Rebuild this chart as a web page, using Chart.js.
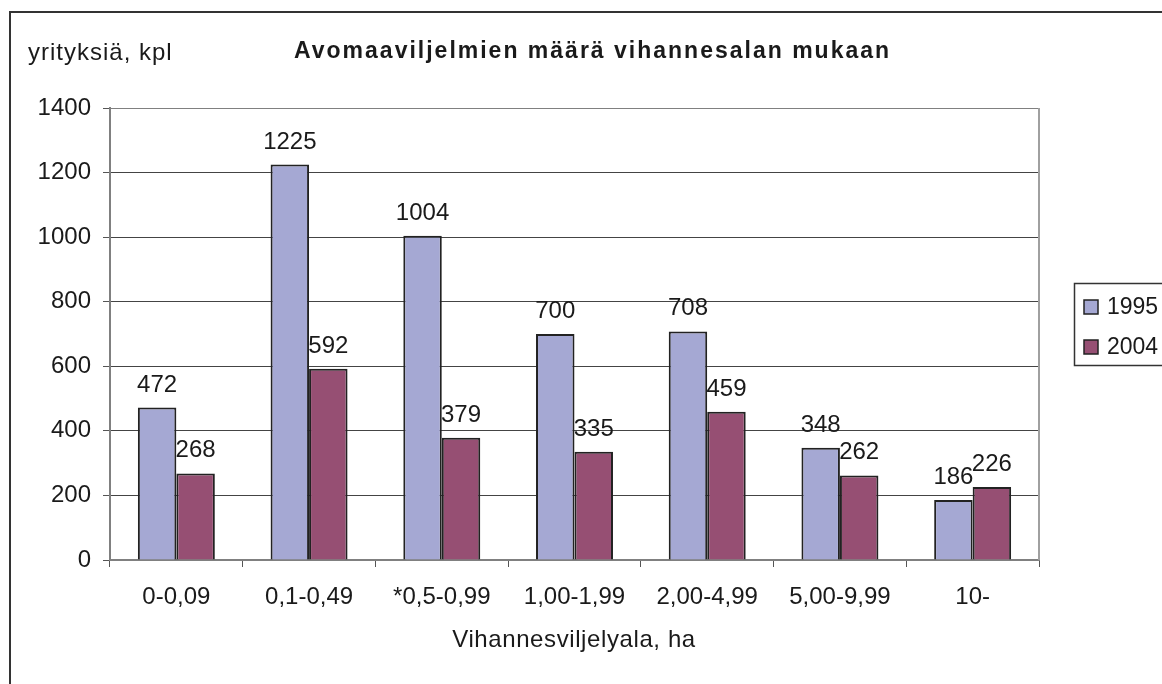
<!DOCTYPE html>
<html>
<head>
<meta charset="utf-8">
<script src="https://cdn.jsdelivr.net/npm/chart.js@4"></script>
<style>
  html, body { margin: 0; padding: 0; background: #fff; }
  #wrap { width: 1162px; height: 684px; position: relative; }
</style>
</head>
<body>
<div id="wrap"><canvas id="chart"></canvas></div>
<script>
const categories = ["0-0,09", "0,1-0,49", "*0,5-0,99", "1,00-1,99", "2,00-4,99", "5,00-9,99", "10-"];
const years = ["1995", "2004"];
const values1995 = [472, 1225, 1004, 700, 708, 348, 186];
const values2004 = [268, 592, 379, 335, 459, 262, 226];
const yTicks = [0, 200, 400, 600, 800, 1000, 1200, 1400];

const colors = ["#a5a8d3", "#964f73"];
const font = "Liberation Sans, Arial, sans-serif";
const txt = "#1a1a1a";

// frame, titles, value labels and legend drawn by hand
const extras = {
  id: "extras",
  beforeDraw(chart) {
    const ctx = chart.ctx;
    ctx.save();
    ctx.fillStyle = "#fff";
    ctx.fillRect(0, 0, chart.width, chart.height);
    ctx.restore();
  },
  afterDatasetsDraw(chart) {
    const ctx = chart.ctx;
    ctx.save();
    ctx.fillStyle = txt;
    ctx.font = "24px " + font;
    ctx.textAlign = "center";
    ctx.textBaseline = "alphabetic";
    chart.data.datasets.forEach((ds, i) => {
      chart.getDatasetMeta(i).data.forEach((bar, j) => {
        ctx.fillText(String(ds.data[j]), bar.x, bar.y - 16);
      });
    });
    ctx.restore();
  },
  afterDraw(chart) {
    const ctx = chart.ctx;
    const area = chart.chartArea;
    ctx.save();
    // plot area right border
    ctx.strokeStyle = "#a0a0a0";
    ctx.lineWidth = 2;
    ctx.beginPath();
    ctx.moveTo(area.right, area.top);
    ctx.lineTo(area.right, area.bottom);
    ctx.stroke();

    // outer frame
    ctx.strokeStyle = "#333";
    ctx.lineWidth = 2;
    ctx.strokeRect(10, 12, chart.width + 20, chart.height + 20);

    ctx.fillStyle = txt;
    ctx.textBaseline = "middle";
    ctx.letterSpacing = "2px";
    ctx.font = "bold 23px " + font;
    ctx.textAlign = "left";
    ctx.fillText("Avomaaviljelmien määrä vihannesalan mukaan", 294, 52);

    ctx.letterSpacing = "1px";
    ctx.font = "24px " + font;
    ctx.fillText("yrityksiä, kpl", 28, 53);

    ctx.letterSpacing = "0.6px";
    ctx.textAlign = "center";
    ctx.fillText("Vihannesviljelyala, ha", 574, 640);
    ctx.letterSpacing = "0px";

    // legend
    ctx.strokeStyle = "#333";
    ctx.lineWidth = 1.5;
    ctx.strokeRect(1074.5, 283.5, 120, 82);
    ctx.font = "23px " + font;
    chart.data.datasets.forEach((ds, i) => {
      const y = 307 + i * 40;
      ctx.fillStyle = ds.backgroundColor;
      ctx.fillRect(1084, y - 7, 14, 14);
      ctx.strokeStyle = "#222";
      ctx.lineWidth = 1.5;
      ctx.strokeRect(1084, y - 7, 14, 14);
      ctx.fillStyle = txt;
      ctx.textAlign = "left";
      ctx.fillText(ds.label, 1107, y + 1);
    });
    ctx.restore();
  }
};

new Chart(document.getElementById("chart"), {
  type: "bar",
  data: {
    labels: categories,
    datasets: [
      {
        label: years[0],
        data: values1995,
        backgroundColor: colors[0],
        borderColor: "#222",
        borderWidth: 2,
        categoryPercentage: 0.58,
        barPercentage: 1
      },
      {
        label: years[1],
        data: values2004,
        backgroundColor: colors[1],
        borderColor: "#222",
        borderWidth: 2,
        categoryPercentage: 0.58,
        barPercentage: 1
      }
    ]
  },
  options: {
    responsive: true,
    maintainAspectRatio: false,
    animation: false,
    layout: { padding: { left: 0, top: 108, right: 123, bottom: 0 } },
    plugins: {
      legend: { display: false },
      title: { display: false },
      tooltip: { enabled: false }
    },
    scales: {
      x: {
        grid: { display: true, drawOnChartArea: false, drawTicks: true, tickLength: 7, color: "#555", offset: true },
        border: { color: "#808080", width: 2 },
        ticks: { color: txt, font: { family: font, size: 24 }, padding: 16, maxRotation: 0 },
        afterFit(scale) { scale.height = 124; }
      },
      y: {
        min: 0,
        max: 1400,
        afterBuildTicks(scale) { scale.ticks = yTicks.map(v => ({ value: v })); },
        grid: {
          color: ctx => (ctx.tick && ctx.tick.value === 1400 ? "#808080" : "#444"),
          lineWidth: 1, tickLength: 7, tickColor: "#555"
        },
        border: { color: "#808080", width: 2 },
        ticks: { color: txt, font: { family: font, size: 24 }, padding: 12, callback: v => String(v) },
        afterFit(scale) { scale.width = 110; }
      }
    }
  },
  plugins: [extras]
});
</script>
</body>
</html>
